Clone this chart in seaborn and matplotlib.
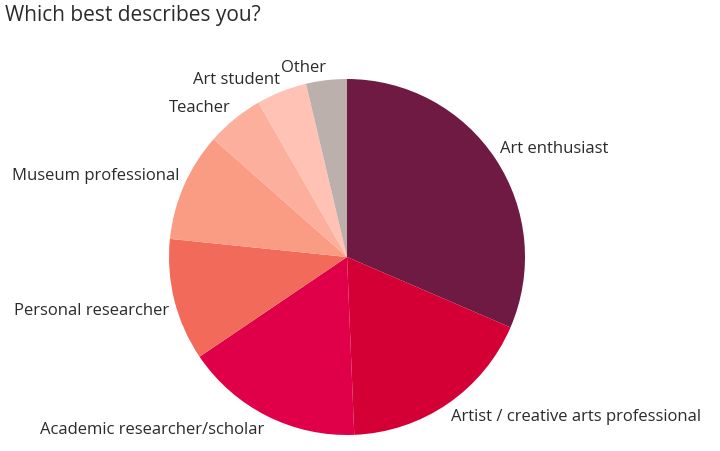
import numpy as np
import matplotlib
matplotlib.use("Agg")
import matplotlib.pyplot as plt
import seaborn as sns

# survey answers, share of respondents (%), clockwise from 12 o'clock
categories = ['Art enthusiast', 'Artist / creative arts professional', 'Academic researcher/scholar',
              'Personal researcher', 'Museum professional', 'Teacher', 'Art student', 'Other']
shares = [31.5, 17.9, 16.2, 11.1, 9.9, 5.2, 4.6, 3.7]
colors = ['#6e1a42', '#d40035', '#e0004a', '#f26a5a', '#fa9b84', '#fcaf9c', '#ffc2b5', '#bbb0ac']

sns.set_theme(style='white')
plt.rcParams['font.family'] = ['Open Sans', 'DejaVu Sans']

fig = plt.figure(figsize=(7.2, 4.52), dpi=100)
W, H = 720, 452
cx, cy, r = 347, 258, 178
ax = fig.add_axes([(cx - r) / W, (H - cy - r) / H, 2 * r / W, 2 * r / H])

wedges, texts = ax.pie(shares, labels=categories, colors=colors, startangle=90,
                       counterclock=False, labeldistance=1.03,
                       wedgeprops=dict(linewidth=0),
                       textprops=dict(fontsize=12, color='#2b2b2b'))
for t in texts:
    x, y = t.get_position()
    t.set_va('bottom' if y > 0 else 'top')

ax.set_xlim(-1, 1)
ax.set_ylim(-1, 1)
ax.axis('off')

fig.text(5 / W, 1 - 15 / H, 'Which best describes you?', fontsize=15, color='#2b2b2b',
         ha='left', va='center')

fig.savefig('out.png', dpi=100)
